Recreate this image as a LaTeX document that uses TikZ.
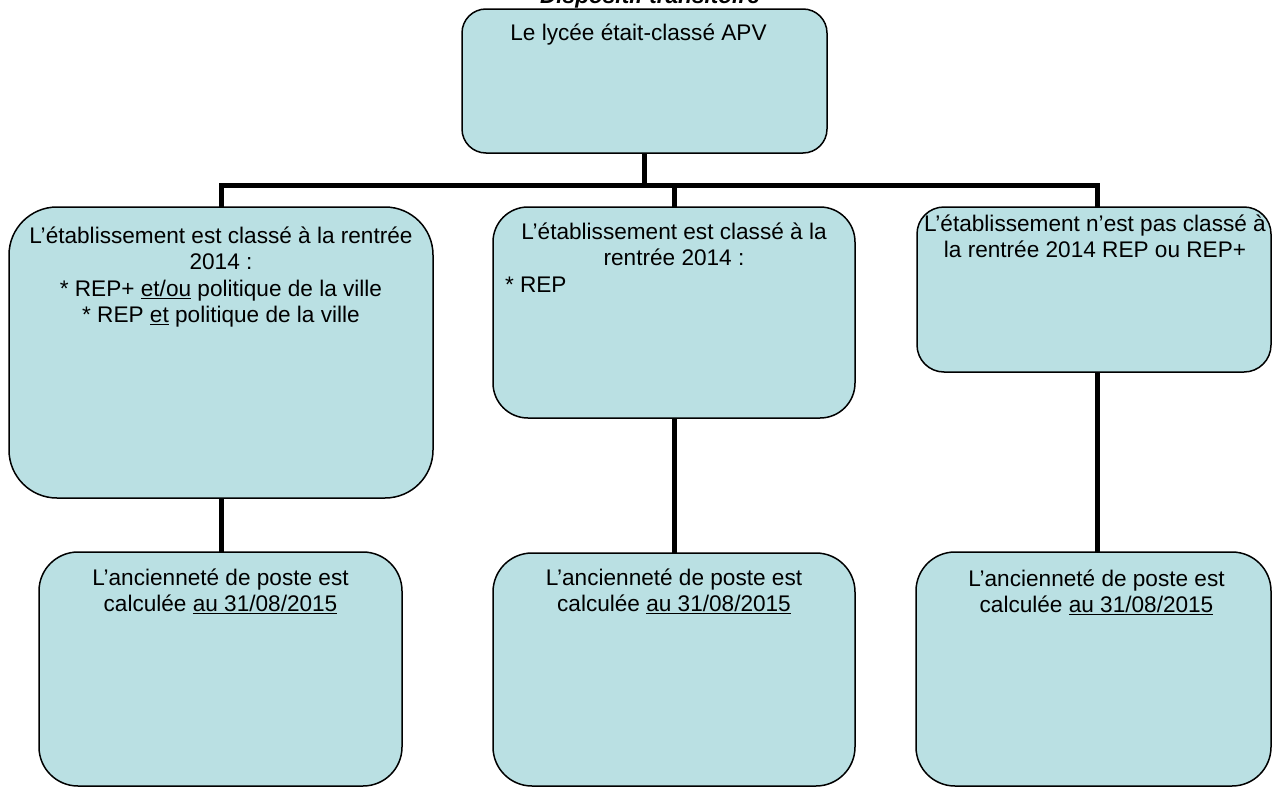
\documentclass[tikz,border=0pt]{standalone}
\usepackage{fontspec}
\setmainfont{Liberation Sans}
\definecolor{boxfill}{RGB}{186,224,227}
\newcommand{\tzstrut}{\vrule height 20pt depth 0pt width 0pt}
\begin{document}
\begin{tikzpicture}[x=1pt,y=-1pt,
  box/.style={draw=black, line width=1.5pt, fill=boxfill, rectangle, inner sep=0pt, outer sep=0pt},
  txt/.style={anchor=north, inner sep=0pt, align=center, font=\fontsize{22.6pt}{26.5pt}\selectfont},
  conn/.style={line width=5pt, draw=black, line join=miter}]
\useasboundingbox (0,0) rectangle (1272,787);

% title (cut at top)
\node[anchor=base, inner sep=0pt, font=\bfseries\itshape\fontsize{22.6pt}{26.5pt}\selectfont] (title) at (650,3) {Dispositif transitoire};

% boxes
\node[box, rounded corners=24pt, minimum width=365pt, minimum height=144pt] (top) at (644.5,81) {};
\node[box, rounded corners=48pt, minimum width=424pt, minimum height=291pt] (L) at (221,352.5) {};
\node[box, rounded corners=35pt, minimum width=362pt, minimum height=211pt] (M) at (674,312.5) {};
\node[box, rounded corners=27pt, minimum width=354pt, minimum height=165pt] (R) at (1094,289.5) {};
\node[box, rounded corners=39pt, minimum width=363pt, minimum height=234pt] (BL) at (220.5,669) {};
\node[box, rounded corners=39pt, minimum width=362pt, minimum height=233pt] (BM) at (674,669.5) {};
\node[box, rounded corners=39pt, minimum width=355pt, minimum height=234pt] (BR) at (1093.5,669) {};

% texts
\node[txt, xshift=-6pt, yshift=-11pt] (ttop) at (top.north) {\tzstrut Le lycée était-classé APV};
\node[txt, yshift=-16pt] (tL) at (L.north) {\tzstrut L’établissement est classé à la rentrée\\2014 :\\{*} REP+ \underline{et/ou} politique de la ville\\{*} REP \underline{et} politique de la ville};
\node[txt, yshift=-12pt] (tM) at (M.north) {\tzstrut L’établissement est classé à la\\rentrée 2014 :\\\makebox[338pt][l]{* REP}};
\node[txt, xshift=1pt, yshift=-4pt] (tR) at (R.north) {\tzstrut L’établissement n’est pas classé à\\la rentrée 2014 REP ou REP+};
\node[txt, yshift=-13pt] (tBL) at (BL.north) {\tzstrut L’ancienneté de poste est\\calculée \underline{au 31/08/2015}};
\node[txt, yshift=-12pt] (tBM) at (BM.north) {\tzstrut L’ancienneté de poste est\\calculée \underline{au 31/08/2015}};
\node[txt, xshift=3pt, yshift=-14pt] (tBR) at (BR.north) {\tzstrut L’ancienneté de poste est\\calculée \underline{au 31/08/2015}};

% connectors
\coordinate (bar) at (0,185.5);
\coordinate (rn) at ([xshift=3pt]R.north);
\coordinate (rs) at ([xshift=3pt]R.south);
\draw[conn] (L.north) -- (L.north |- bar) -- (rn |- bar) -- (rn);
\draw[conn] (top.south) -- (top.south |- bar);
\draw[conn] (M.north) -- (M.north |- bar);
\draw[conn] (L.south) -- (L.south |- BL.north);
\draw[conn] (M.south) -- (M.south |- BM.north);
\draw[conn] (rs) -- (rs |- BR.north);
\end{tikzpicture}
\end{document}
